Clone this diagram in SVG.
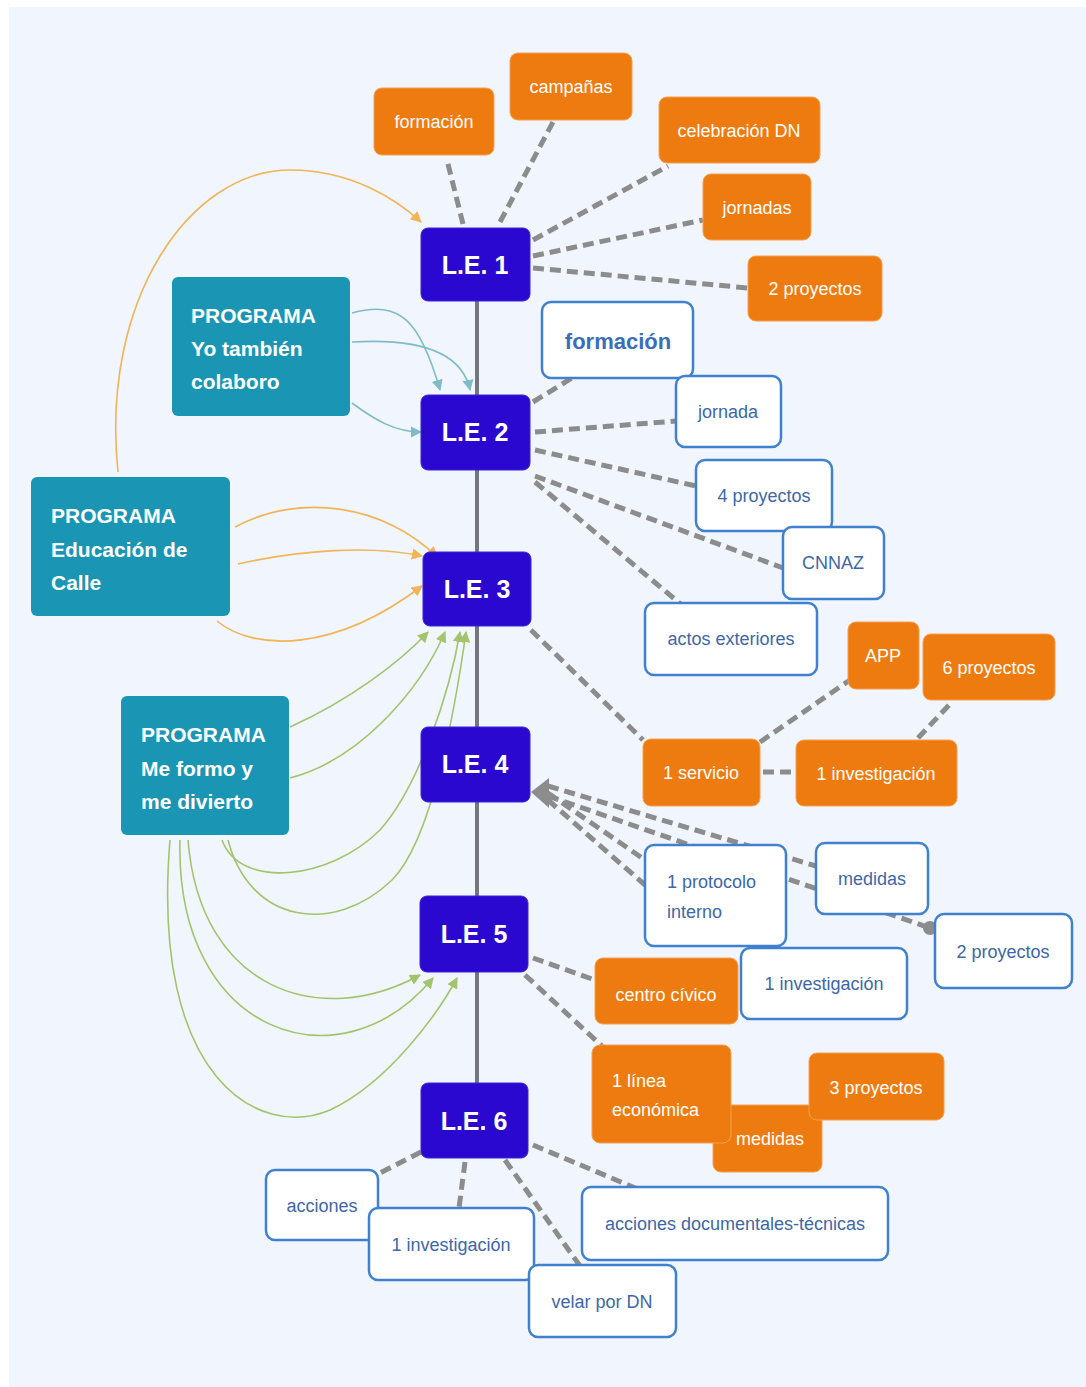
<svg xmlns="http://www.w3.org/2000/svg" width="1086" height="1387" viewBox="0 0 1086 1387">
<style>
.le{fill:#2a08d0;stroke:#3a24d8;stroke-width:1}
.let{fill:#fff;font-family:"Liberation Sans",Arial,sans-serif;font-weight:bold;font-size:25px;text-anchor:middle}
.or{fill:#ee7b10;stroke:#f4a050;stroke-width:1}
.ort{fill:#fff;font-family:"Liberation Sans",Arial,sans-serif;font-size:18px;text-anchor:middle}
.wh{fill:#fff;stroke:#3f80cf;stroke-width:2.5}
.wht{fill:#3d67a8;font-family:"Liberation Sans",Arial,sans-serif;font-size:18px;text-anchor:middle}
.pr{fill:#1a96b4}
.prt{fill:#fff;font-family:"Liberation Sans",Arial,sans-serif;font-weight:bold;font-size:21px}
.dash{fill:none;stroke:#8c8c8c;stroke-width:5;stroke-dasharray:11 6}
.spine{fill:none;stroke:#75757f;stroke-width:4}
.cy{fill:none;stroke:#7fbcc8;stroke-width:1.6}
.co{fill:none;stroke:#f1b456;stroke-width:1.6}
.cg{fill:none;stroke:#a3c46c;stroke-width:1.6}
</style>
<defs>
<marker id="ay" viewBox="0 0 10 10" refX="9" refY="5" markerWidth="7" markerHeight="7" orient="auto"><path d="M0,0 L10,5 L0,10 z" fill="#7fbcc8"/></marker>
<marker id="ao" viewBox="0 0 10 10" refX="9" refY="5" markerWidth="7" markerHeight="7" orient="auto"><path d="M0,0 L10,5 L0,10 z" fill="#f1b456"/></marker>
<marker id="ag" viewBox="0 0 10 10" refX="9" refY="5" markerWidth="7" markerHeight="7" orient="auto"><path d="M0,0 L10,5 L0,10 z" fill="#a3c46c"/></marker>
</defs>
<rect x="0" y="0" width="1086" height="1387" fill="#ffffff"/>
<rect x="9" y="7" width="1077" height="1380" fill="#f1f5fe"/>

<g id="connectors">
<path class="spine" d="M477,300 L477,1085"/>
<path class="dash" d="M463,224 L447,160"/>
<path class="dash" d="M500,222 L553,122"/>
<path class="dash" d="M533,240 L668,166"/>
<path class="dash" d="M533,256 L703,220"/>
<path class="dash" d="M533,268 L748,288"/>
<path class="dash" d="M533,402 L572,378"/>
<path class="dash" d="M535,432 L676,421"/>
<path class="dash" d="M535,450 L696,486"/>
<path class="dash" d="M535,476 L783,568"/>
<path class="dash" d="M535,482 L683,606"/>
<path class="dash" d="M531,630 L643,740"/>
<path class="dash" d="M760,742 L850,680"/>
<path class="dash" d="M763,772 L796,772"/>
<path class="dash" d="M918,738 L950,704"/>
<path class="dash" d="M548,786 L816,866"/>
<path class="dash" d="M548,793 L645,860"/>
<path class="dash" d="M548,800 L645,885"/>
<path class="dash" d="M548,796 L930,928"/>
<polygon points="531,792 549,778 549,808" fill="#8c8c8c"/>
<circle cx="930" cy="928" r="7" fill="#8c8c8c"/>
<path class="dash" d="M533,958 L595,980"/>
<path class="dash" d="M525,975 L602,1046"/>
<path class="dash" d="M421,1152 L378,1174"/>
<path class="dash" d="M465,1162 L459,1208"/>
<path class="dash" d="M505,1160 L580,1266"/>
<path class="dash" d="M533,1145 L640,1190"/>
<path class="cy" d="M352,313 C400,300 420,320 440,390" marker-end="url(#ay)"/>
<path class="cy" d="M352,342 C420,338 462,352 470,390" marker-end="url(#ay)"/>
<path class="cy" d="M352,403 C375,420 395,432 421,432" marker-end="url(#ay)"/>
<path class="co" d="M118,472 C100,300 190,170 290,170 C350,170 395,198 421,222" marker-end="url(#ao)"/>
<path class="co" d="M235,527 C300,492 385,505 437,557" marker-end="url(#ao)"/>
<path class="co" d="M238,564 C300,550 370,545 422,556" marker-end="url(#ao)"/>
<path class="co" d="M217,621 C255,652 335,652 422,586" marker-end="url(#ao)"/>
<path class="cg" d="M290,727 C350,700 400,662 428,632" marker-end="url(#ag)"/>
<path class="cg" d="M290,778 C360,760 420,690 445,632" marker-end="url(#ag)"/>
<path class="cg" d="M222,840 C240,890 330,880 380,830 C420,785 450,690 460,632" marker-end="url(#ag)"/>
<path class="cg" d="M228,840 C250,925 335,935 392,880 C432,840 455,710 466,632" marker-end="url(#ag)"/>
<path class="cg" d="M188,840 C200,990 320,1030 420,975" marker-end="url(#ag)"/>
<path class="cg" d="M180,840 C175,1035 340,1090 433,978" marker-end="url(#ag)"/>
<path class="cg" d="M170,840 C150,1080 260,1140 330,1110 C390,1082 440,1010 457,978" marker-end="url(#ag)"/>
</g>

<g id="le1"><rect class="le" x="421" y="228" width="109" height="73" rx="7"/><text class="let" x="475" y="274">L.E. 1</text></g>
<g id="le2"><rect class="le" x="421" y="395" width="109" height="75" rx="7"/><text class="let" x="475" y="441">L.E. 2</text></g>
<g id="le3"><rect class="le" x="423" y="552" width="108" height="74" rx="7"/><text class="let" x="477" y="598">L.E. 3</text></g>
<g id="le4"><rect class="le" x="421" y="727" width="109" height="75" rx="7"/><text class="let" x="475" y="773">L.E. 4</text></g>
<g id="le5"><rect class="le" x="420" y="896" width="108" height="76" rx="7"/><text class="let" x="474" y="943">L.E. 5</text></g>
<g id="le6"><rect class="le" x="421" y="1083" width="107" height="75" rx="7"/><text class="let" x="474" y="1130">L.E. 6</text></g>

<g id="p-yo"><rect class="pr" x="172" y="277" width="178" height="139" rx="6"/><text class="prt" x="191" y="323">PROGRAMA</text><text class="prt" x="191" y="356">Yo también</text><text class="prt" x="191" y="389">colaboro</text></g>
<g id="p-calle"><rect class="pr" x="31" y="477" width="199" height="139" rx="6"/><text class="prt" x="51" y="523">PROGRAMA</text><text class="prt" x="51" y="557">Educación de</text><text class="prt" x="51" y="590">Calle</text></g>
<g id="p-formo"><rect class="pr" x="121" y="696" width="168" height="139" rx="6"/><text class="prt" x="141" y="742">PROGRAMA</text><text class="prt" x="141" y="776">Me formo y</text><text class="prt" x="141" y="809">me divierto</text></g>

<g id="o-formacion"><rect class="or" x="374" y="88" width="120" height="67" rx="8"/><text class="ort" x="434" y="128">formación</text></g>
<g id="o-campanas"><rect class="or" x="510" y="53" width="122" height="67" rx="8"/><text class="ort" x="571" y="93">campañas</text></g>
<g id="o-celebracion"><rect class="or" x="659" y="97" width="161" height="66" rx="8"/><text class="ort" x="739" y="137">celebración DN</text></g>
<g id="o-jornadas"><rect class="or" x="703" y="174" width="108" height="66" rx="8"/><text class="ort" x="757" y="214">jornadas</text></g>
<g id="o-2proy"><rect class="or" x="748" y="256" width="134" height="65" rx="8"/><text class="ort" x="815" y="295">2 proyectos</text></g>

<g id="w-formacion"><rect class="wh" x="542" y="302" width="151" height="76" rx="9"/><text class="wht" x="618" y="349" style="font-weight:bold;font-size:22px;fill:#3a6dba">formación</text></g>
<g id="w-jornada"><rect class="wh" x="676" y="376" width="105" height="71" rx="9"/><text class="wht" x="728" y="418">jornada</text></g>
<g id="w-4proy"><rect class="wh" x="696" y="460" width="136" height="71" rx="9"/><text class="wht" x="764" y="502">4 proyectos</text></g>
<g id="w-cnnaz"><rect class="wh" x="783" y="527" width="101" height="72" rx="9"/><text class="wht" x="833" y="569">CNNAZ</text></g>
<g id="w-actos"><rect class="wh" x="645" y="603" width="172" height="72" rx="9"/><text class="wht" x="731" y="645">actos exteriores</text></g>

<g id="o-app"><rect class="or" x="848" y="622" width="71" height="67" rx="8"/><text class="ort" x="883" y="662">APP</text></g>
<g id="o-6proy"><rect class="or" x="923" y="634" width="132" height="66" rx="8"/><text class="ort" x="989" y="674">6 proyectos</text></g>
<g id="o-servicio"><rect class="or" x="643" y="739" width="117" height="67" rx="8"/><text class="ort" x="701" y="779">1 servicio</text></g>
<g id="o-invest"><rect class="or" x="796" y="740" width="161" height="66" rx="8"/><text class="ort" x="876" y="780">1 investigación</text></g>

<g id="w-protocolo"><rect class="wh" x="645" y="845" width="141" height="101" rx="9"/><text class="wht" x="667" y="888" style="text-anchor:start">1 protocolo</text><text class="wht" x="667" y="918" style="text-anchor:start">interno</text></g>
<g id="w-medidas"><rect class="wh" x="816" y="843" width="112" height="71" rx="9"/><text class="wht" x="872" y="885">medidas</text></g>
<g id="w-2proy"><rect class="wh" x="935" y="914" width="137" height="74" rx="9"/><text class="wht" x="1003" y="958">2 proyectos</text></g>

<g id="w-invest5"><rect class="wh" x="741" y="948" width="166" height="71" rx="9"/><text class="wht" x="824" y="990">1 investigación</text></g>
<g id="o-centro"><rect class="or" x="595" y="958" width="143" height="66" rx="8"/><text class="ort" x="666" y="1001">centro cívico</text></g>
<g id="o-medidas"><rect class="or" x="713" y="1105" width="109" height="67" rx="8"/><text class="ort" x="770" y="1145">medidas</text></g>
<g id="o-linea"><rect class="or" x="592" y="1045" width="139" height="98" rx="8"/><text class="ort" x="612" y="1087" style="text-anchor:start">1 línea</text><text class="ort" x="612" y="1116" style="text-anchor:start">económica</text></g>
<g id="o-3proy"><rect class="or" x="809" y="1053" width="135" height="67" rx="8"/><text class="ort" x="876" y="1094">3 proyectos</text></g>

<g id="w-acciones"><rect class="wh" x="266" y="1170" width="112" height="70" rx="9"/><text class="wht" x="322" y="1212">acciones</text></g>
<g id="w-invest6"><rect class="wh" x="369" y="1208" width="165" height="72" rx="9"/><text class="wht" x="451" y="1251">1 investigación</text></g>
<g id="w-velar"><rect class="wh" x="529" y="1265" width="147" height="72" rx="9"/><text class="wht" x="602" y="1308">velar por DN</text></g>
<g id="w-accdoc"><rect class="wh" x="582" y="1187" width="306" height="73" rx="9"/><text class="wht" x="735" y="1230">acciones documentales-técnicas</text></g>
</svg>
